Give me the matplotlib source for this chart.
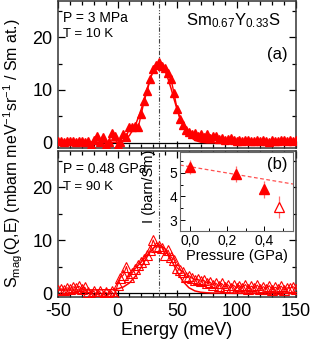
import matplotlib
matplotlib.use("Agg")
import matplotlib.pyplot as plt
from matplotlib.ticker import MultipleLocator, FixedLocator, FixedFormatter

plt.rcParams['font.family'] = ['Liberation Sans', 'DejaVu Sans']
plt.rcParams['mathtext.fontset'] = 'custom'
plt.rcParams['mathtext.rm'] = 'Liberation Sans'
plt.rcParams['mathtext.it'] = 'Liberation Sans:italic'
plt.rcParams['mathtext.bf'] = 'Liberation Sans:bold'
plt.rcParams['axes.unicode_minus'] = False

# ---------------- data ----------------
energy = [-50, -47.5, -45, -42.5, -40, -37.5, -35, -32.5, -30, -27.5, -25,
          -22.5, -20, -17.5, -15, -12.5, -10, -7.5, -5, -2.5, 0,
          2.5, 5, 7.5, 10, 12.5, 15, 17.5, 20, 22.5, 25,
          27.5, 30, 32.5, 35, 37.5, 40, 42.5, 45, 47.5, 50,
          52.5, 55, 57.5, 60, 62.5, 65, 67.5, 70, 72.5, 75,
          77.5, 80, 82.5, 85, 87.5, 90, 92.5, 95, 97.5, 100,
          102.5, 105, 107.5, 110, 112.5, 115, 117.5, 120, 122.5, 125,
          127.5, 130, 132.5, 135, 137.5, 140, 142.5, 145, 147.5, 150]

s_10K = [0.3, 0.35, 0.25, 0.3, 0.4, 0.3, 0.25, 0.35, 0.3, 0.2, 0.3,
         -0.4, 0.5, 1.4, 0.2, 1.2, -0.3, 0.2, 1.8, 1.4, -0.3,
         0.1, 1.7, 1.1, 3.0, 3.1, 3.2, 3.0, 5.5, 8.0, 9.9,
         12.0, 13.9, 14.8, 15.3, 14.6, 14.2, 13.3, 12.0, 9.4, 6.5,
         4.6, 3.4, 2.5, 2.0, 1.6, 1.9, 1.3, 1.7, 1.2, 1.6,
         0.9, 1.4, 1.3, 0.8, 1.0, 0.6, 0.7, 0.9, 0.5, 0.4,
         0.6, 0.3, 0.5, 0.6, 0.3, 0.4, 0.6, 0.3, 0.5, 0.4,
         0.2, 0.6, 0.4, 0.3, 0.5, 0.6, 0.3, 0.5, 0.4, 0.6]

s_90K = [0.6, 0.8, 0.6, 1.0, 0.7, 1.2, 0.9, 1.3, 0.8, 1.1, 0.2,
         -0.3, 0.4, -0.4, 0.3, -0.5, 0.2, -0.3, 0.3, -0.5, 1.5,
         2.9, 3.4, 5.0, 3.0, 3.8, 4.6, 5.2, 5.8, 6.5, 7.2,
         8.1, 10.0, 8.6, 8.8, 8.5, 7.2, 8.1, 6.8, 6.3, 4.8,
         4.3, 4.0, 3.1, 3.3, 2.8, 2.5, 2.6, 2.2, 2.4, 1.9,
         2.1, 1.6, 1.9, 1.3, 1.8, 1.2, 1.6, 1.0, 1.5, 0.9,
         1.4, 1.0, 1.6, 0.8, 1.3, 0.9, 1.5, 0.7, 1.2, 0.8,
         1.4, 0.6, 1.1, 0.7, 1.3, 0.6, 1.0, 0.9, 1.2, 0.8]

fit_energy_10K = [-50, 0, 5, 10, 15, 20, 22.5, 25, 27.5, 30, 32.5, 35,
                  37.5, 40, 42.5, 45, 47.5, 50, 52.5, 55, 60, 65, 70, 75, 150]
fit_10K = [0.0, 0.15, 0.5, 1.4, 3.3, 6.4, 8.3, 10.3, 12.1, 13.6, 14.7, 15.0,
           14.7, 13.6, 12.1, 10.3, 8.3, 6.4, 4.7, 3.3, 1.4, 0.5, 0.15, 0.03, 0.0]

fit_energy_90K = [-50, -5, 0, 5, 10, 15, 20, 22.5, 25, 27.5, 30, 32.5, 35,
                  37.5, 40, 42.5, 45, 47.5, 50, 52.5, 55, 60, 65, 70, 75, 80, 150]
fit_90K = [0.55, 0.62, 0.78, 1.15, 1.9, 3.15, 4.9, 5.9, 6.9, 7.75, 8.45, 8.9, 9.05,
           8.8, 8.3, 7.4, 6.3, 5.2, 4.1, 3.1, 2.2, 1.0, 0.4, 0.15, 0.05, 0.0, 0.0]

peak_energy = 35

pressure = [0.0, 0.25, 0.40]
intensity = [5.25, 4.95, 4.30]
intensity_err = [0.30, 0.35, 0.35]
pressure_open = [0.48]
intensity_open = [3.55]
intensity_open_err = [0.45]
trend_p = [-0.054, 0.556]
trend_i = [5.32, 4.52]

inset_xticks = [0.0, 0.2, 0.4]
inset_xticklabels = ['0,0', '0,2', '0,4']

# ---------------- figure ----------------
W, H = 312, 341
fig = plt.figure(figsize=(W / 100, H / 100), dpi=100)

def rect(x0, y0, x1, y1):
    return [x0 / W, 1 - y1 / H, (x1 - x0) / W, (y1 - y0) / H]

red = '#ff0000'

ax_top = fig.add_axes(rect(58, 1, 296, 148))
ax_bot = fig.add_axes(rect(58, 151, 296, 297))

for ax in (ax_top, ax_bot):
    ax.set_xlim(-50, 150)
    ax.xaxis.set_major_locator(MultipleLocator(50))
    ax.xaxis.set_minor_locator(MultipleLocator(10))
    ax.yaxis.set_major_locator(MultipleLocator(10))
    ax.yaxis.set_minor_locator(MultipleLocator(5))
    ax.tick_params(which='both', direction='in', top=True, right=True,
                   labelsize=13, width=0.9, pad=4)
    ax.tick_params(which='major', length=5)
    ax.tick_params(which='minor', length=3)
    for sp in ax.spines.values():
        sp.set_linewidth(1.1)
        sp.set_color('#333333')
    ax.axhline(0, color='black', lw=0.9, zorder=1)
    ax.axvline(peak_energy, color='#444444', lw=0.8,
               ls=(0, (4, 1.5, 1, 1.5, 1, 1.5)), zorder=1)

ax_top.set_ylim(-0.95, 26.8)
ax_bot.set_ylim(-0.75, 26.8)
ax_top.tick_params(labelbottom=False)

# top panel
ax_top.plot(fit_energy_10K, fit_10K, color=red, lw=1.1, zorder=2)
ax_top.plot(energy, s_10K, color=red, lw=1.0, marker='^', ms=5.5,
            mfc=red, mec=red, zorder=3)

# bottom panel
ax_bot.plot(fit_energy_90K, fit_90K, color=red, lw=1.1, zorder=2)
ax_bot.plot(energy, s_90K, color=red, lw=0.8, marker='^', ms=6.5,
            mfc='none', mec=red, mew=0.8, zorder=3)

ax_bot.set_xlabel('Energy (meV)', fontsize=13, labelpad=2)

fig.text(13 / W, 1 - 153 / H,
         r'S$_{\rm mag}$(Q,E) (mbarn meV$^{-1}$sr$^{-1}$ / Sm at.)',
         rotation=90, ha='center', va='center', fontsize=11.5)

# annotations
fig.text(63 / W, 1 - 22 / H, 'P = 3 MPa', fontsize=10, ha='left', va='baseline')
fig.text(63 / W, 1 - 37 / H, 'T = 10 K', fontsize=9.5, ha='left', va='baseline')
fig.text(63 / W, 1 - 173 / H, 'P = 0.48 GPa', fontsize=10, ha='left', va='baseline')
fig.text(63 / W, 1 - 190 / H, 'T = 90 K', fontsize=9.5, ha='left', va='baseline')
fig.text(281 / W, 1 - 25 / H, r'Sm$_{0.67}$Y$_{0.33}$S', fontsize=12,
         ha='right', va='baseline')
fig.text(288 / W, 1 - 59 / H, '(a)', fontsize=12, ha='right', va='baseline')

# inset
axi = fig.add_axes(rect(180, 152, 293, 231))
axi.set_xlim(trend_p[0], trend_p[1])
axi.set_ylim(2.54, 5.87)
axi.plot(trend_p, trend_i, color='#ff5050', lw=0.9, ls=(0, (3, 2)), zorder=1)
axi.errorbar(pressure, intensity, yerr=intensity_err, fmt='^', color=red,
             ms=6.5, ecolor='#ff7070', elinewidth=0.9, capsize=0, zorder=3)
axi.errorbar(pressure_open, intensity_open, yerr=intensity_open_err, fmt='^',
             mfc='white', mec=red, mew=0.9, ms=6.5, ecolor='#ff7070',
             elinewidth=0.9, capsize=0, zorder=3)
axi.xaxis.set_major_locator(FixedLocator(inset_xticks))
axi.xaxis.set_major_formatter(FixedFormatter(inset_xticklabels))
axi.xaxis.set_minor_locator(MultipleLocator(0.1))
axi.yaxis.set_major_locator(MultipleLocator(1))
axi.yaxis.set_minor_locator(MultipleLocator(0.5))
axi.tick_params(which='both', direction='in', labelsize=10, width=0.7, pad=2)
axi.tick_params(which='major', length=3.5)
axi.tick_params(which='minor', length=2)
for sp in axi.spines.values():
    sp.set_linewidth(0.8)
    sp.set_color('#666666')
axi.set_xlabel('Pressure (GPa)', fontsize=10.5, labelpad=1)
axi.set_ylabel('I (barn/Sm)', fontsize=10.5)
axi.yaxis.set_label_coords(-0.215, 0.56)
axi.text(0.95, 0.78, '(b)', transform=axi.transAxes, fontsize=12,
         ha='right', va='baseline')

fig.savefig('out.png', dpi=100)
